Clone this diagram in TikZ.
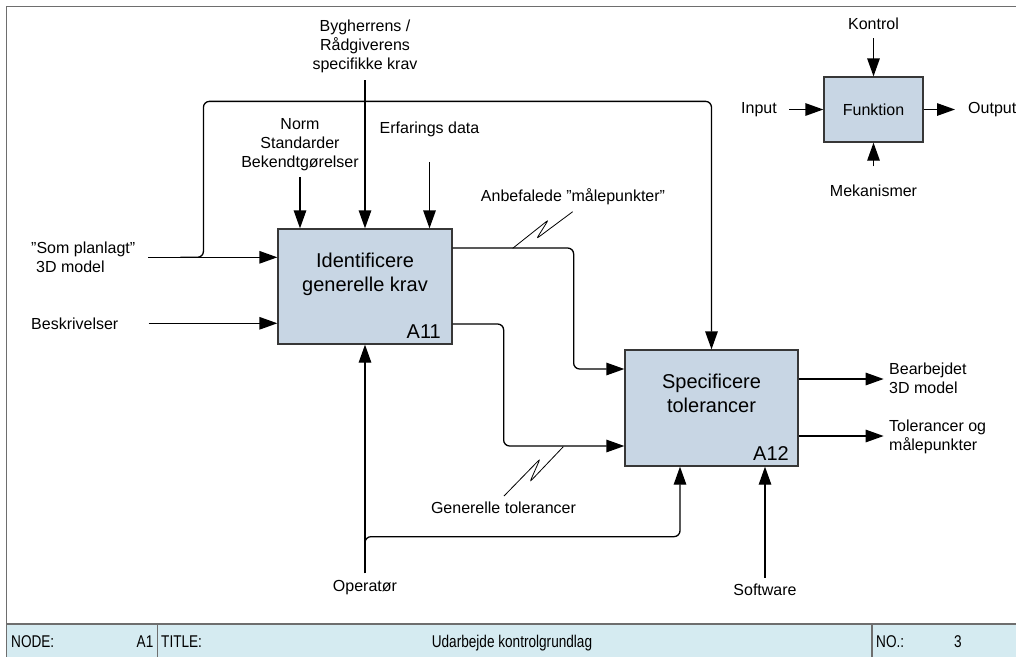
\documentclass[tikz,border=0pt]{standalone}
\usepackage{fontspec}
\setmainfont{Liberation Sans}
\newfontfamily\barfont[FakeStretch=0.8]{Liberation Sans}
\usetikzlibrary{arrows.meta}
\definecolor{boxfill}{RGB}{200,214,228}
\definecolor{barfill}{RGB}{213,235,241}
\definecolor{framegray}{RGB}{110,110,110}
\definecolor{boxline}{RGB}{55,55,55}

\begin{document}
\begin{tikzpicture}[x=1pt,y=-1pt,
  lbl/.style={inner sep=0pt, align=center, font=\fontsize{16}{19}\selectfont},
  ttl/.style={inner sep=0pt, align=center, font=\fontsize{20}{23.5}\selectfont},
  tag/.style={inner sep=0pt, font=\fontsize{20}{24}\selectfont, anchor=base east},
  fbox/.style={draw=boxline, fill=boxfill, line width=1.3pt, inner sep=0pt},
  conn/.style={line width=1.3pt, rounded corners=6pt},
  arr/.style={conn, -{Triangle[length=18pt,width=12.5pt]}},
  zig/.style={line width=0.8pt, rounded corners=2.5pt},
  bartxt/.style={inner sep=0pt, font=\barfont\fontsize{17}{20}\selectfont, anchor=base west},
]
\useasboundingbox (0,0) rectangle (1016,657);

% sheet frame and title bar
\fill[barfill] (6.5,624) rectangle (1016,657);
\draw[framegray, line width=1.6pt] (1016,6.5) -- (6.5,6.5) -- (6.5,657);
\draw[framegray, line width=1.2pt] (6.5,624) -- (1016,624);
\draw[framegray, line width=1.2pt] (157.5,624) -- (157.5,657) (872,624) -- (872,657);
\node[bartxt] (nodeL) at (11,647) {NODE:};
\node[bartxt, anchor=base] (nodeV) at (145,647) {A1};
\node[bartxt] (titleL) at (161,647) {TITLE:};
\node[bartxt, anchor=base] (titleV) at (512,647) {Udarbejde kontrolgrundlag};
\node[bartxt] (noL) at (876,647) {NO.:};
\node[bartxt, anchor=base] (noV) at (958,647) {3};

% activity boxes
\node[fbox, minimum width=174pt, minimum height=115pt] (a11) at (365,286.5) {};
\node[fbox, minimum width=173pt, minimum height=116pt] (a12) at (711.5,408) {};
\node[ttl] (a11t) at (365,274.5) {Identificere\\generelle krav};
\node[tag] (a11n) at (441,338) {A11};
\node[ttl] (a12t) at (711.5,393.5) {Specificere\\tolerancer};
\node[tag] (a12n) at (789,460) {A12};

% arrow labels
\node[lbl] (byg) at (365,46) {Bygherrens /\\Rådgiverens\\specifikke krav};
\node[lbl] (norm) at (300,144.5) {Norm\\Standarder\\Bekendtgørelser};
\node[lbl, anchor=base] (erf) at (429.5,133.3) {Erfarings data};
\node[lbl, align=left, anchor=west] (som) at (31,257.3) {”Som planlagt”\\\hspace*{5pt}3D model};
\node[lbl, anchor=base west] (besk) at (31,329) {Beskrivelser};
\node[lbl, anchor=base] (anb) at (573,201.7) {Anbefalede ”målepunkter”};
\node[lbl, anchor=base] (gen) at (503.5,513.3) {Generelle tolerancer};
\node[lbl, anchor=base] (op) at (365,591.7) {Operatør};
\node[lbl, anchor=base] (sw) at (765,595) {Software};
\node[lbl, align=left, anchor=west] (bear) at (889,378) {Bearbejdet\\3D model};
\node[lbl, align=left, anchor=west] (tolm) at (889,437.2) {Tolerancer og\\målepunkter};

% legend
\node[fbox, minimum width=99pt, minimum height=65pt, font=\fontsize{16}{19}\selectfont] (fn) at (873.5,109.5) {Funktion};
\node[lbl, anchor=base] (kon) at (873.5,29.3) {Kontrol};
\node[lbl, anchor=base] (mek) at (873.5,196.7) {Mekanismer};
\node[lbl, anchor=east] (inp) at (777,109.5) {Input};
\node[lbl, anchor=west] (outp) at (968,109.5) {Output};
\draw[arr] ([yshift=-8.7pt]kon.south) -- (fn.north);
\draw[arr] ([yshift=18.5pt]mek.north) -- (fn.south);
\draw[arr] ([xshift=12pt]inp.east) -- (fn.west);
\draw[arr] (fn.east) -- ([xshift=-13pt]outp.west);

% controls of A11
\draw[arr] ([yshift=-7.6pt]byg.south) -- (a11.north);
\draw[arr] ([yshift=-6pt]norm.south) -- (norm.south |- a11.north);
\draw[arr] ([yshift=-25pt]erf.south) -- (erf.south |- a11.north);

% inputs of A11, with the 3D model also routed to A12
\draw[arr] ([xshift=13pt]som.east) -- (som.east -| a11.west);
\draw[arr] ([xshift=45pt]som.east) -- ++(23,0) |- ([yshift=248pt]a12.north) -- (a12.north);
\draw[arr] ([xshift=30pt]besk.east) -- (besk.east -| a11.west);

% mechanisms
\draw[arr] ([yshift=7pt]op.north) -- (a11.south);
\draw[arr] ([yshift=20pt]op.north) |- ([xshift=-31.5pt,yshift=-70pt]a12.south) -- ([xshift=-31.5pt]a12.south);
\draw[arr] ([yshift=5.3pt]sw.north) -- (sw.north |- a12.south);

% A11 outputs into A12
\draw[arr] ([yshift=38.5pt]a11.east) -- ++(121,0) |- ([yshift=39pt]a12.west);
\draw[arr] ([yshift=-37.5pt]a11.east) -- ++(51,0) |- ([yshift=-38pt]a12.west);
\draw[zig] (512.7,248.3) -- (548.3,220) -- (536.7,238.5) -- (572.7,211.7);
\draw[zig] (563.3,446.7) -- (530,481.7) -- (540,459) -- (504,496);

% A12 outputs
\draw[arr] ([yshift=29pt]a12.east) -- ++(85,0);
\draw[arr] ([yshift=-28pt]a12.east) -- ++(85,0);
\end{tikzpicture}
\end{document}
